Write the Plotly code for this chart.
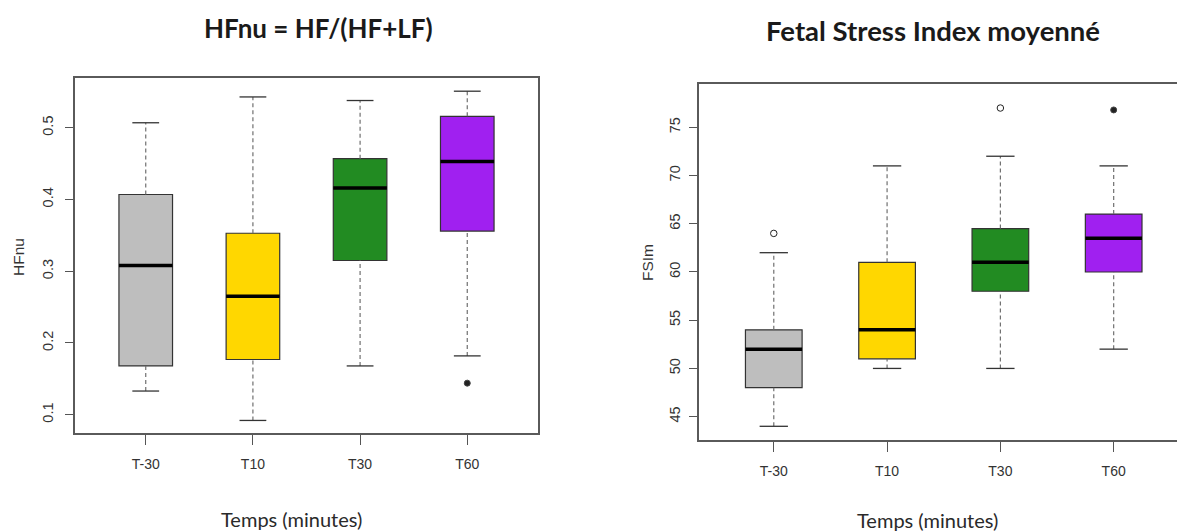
import plotly.graph_objects as go

W, H = 1177, 531

categories = ["T-30", "T10", "T30", "T60"]
positions = [1, 2, 3, 4]
colors = ["#BEBEBE", "#FFD700", "#228B22", "#A020F0"]

# HFnu panel
hf_lo = [0.133, 0.092, 0.168, 0.182]
hf_q1 = [0.168, 0.177, 0.315, 0.356]
hf_med = [0.308, 0.265, 0.416, 0.453]
hf_q3 = [0.407, 0.353, 0.457, 0.516]
hf_hi = [0.507, 0.543, 0.538, 0.551]
hf_out_x = [4]
hf_out_y = [0.144]
hf_out_filled = [True]

# FSIm panel
fs_lo = [44, 50, 50, 52]
fs_q1 = [48, 51, 58, 60]
fs_med = [52, 54, 61, 63.5]
fs_q3 = [54, 61, 64.5, 66]
fs_hi = [62, 71, 72, 71]
fs_out_x = [1, 3, 4]
fs_out_y = [64, 77, 76.8]
fs_out_filled = [False, False, True]

hf_ticks = [0.1, 0.2, 0.3, 0.4, 0.5]
fs_ticks = [45, 50, 55, 60, 65, 70, 75]

BOXW = 0.5
CAPW = 0.25

fig = go.Figure()


def add_panel(lo, q1, med, q3, hi, ox, oy, ofilled, xa, ya):
    for i, p in enumerate(positions):
        # whiskers (dashed)
        fig.add_trace(go.Scatter(x=[p, p, None, p, p], y=[q3[i], hi[i], None, lo[i], q1[i]],
                                 mode="lines", line=dict(color="#707070", width=1.2, dash="4px,3px"),
                                 xaxis=xa, yaxis=ya, hoverinfo="skip", showlegend=False))
        # caps
        fig.add_trace(go.Scatter(x=[p - CAPW / 2, p + CAPW / 2, None, p - CAPW / 2, p + CAPW / 2],
                                 y=[hi[i], hi[i], None, lo[i], lo[i]],
                                 mode="lines", line=dict(color="#333333", width=1.3),
                                 xaxis=xa, yaxis=ya, hoverinfo="skip", showlegend=False))
        # box
        fig.add_trace(go.Box(x=[p], q1=[q1[i]], median=[med[i]], q3=[q3[i]],
                             lowerfence=[q1[i]], upperfence=[q3[i]], width=BOXW,
                             fillcolor=colors[i], line=dict(color="#333333", width=1.2),
                             boxpoints=False, xaxis=xa, yaxis=ya, showlegend=False,
                             hoverinfo="skip"))
        # median
        fig.add_trace(go.Scatter(x=[p - BOXW / 2, p + BOXW / 2], y=[med[i], med[i]],
                                 mode="lines", line=dict(color="#000000", width=3.5),
                                 xaxis=xa, yaxis=ya, hoverinfo="skip", showlegend=False))
    for x, y, f in zip(ox, oy, ofilled):
        fig.add_trace(go.Scatter(x=[x], y=[y], mode="markers",
                                 marker=dict(symbol="circle" if f else "circle-open",
                                             size=6 if f else 6.5, color="#222222",
                                             line=dict(width=1, color="#444444")),
                                 xaxis=xa, yaxis=ya, hoverinfo="skip", showlegend=False))


add_panel(hf_lo, hf_q1, hf_med, hf_q3, hf_hi, hf_out_x, hf_out_y, hf_out_filled, "x", "y")
add_panel(fs_lo, fs_q1, fs_med, fs_q3, fs_hi, fs_out_x, fs_out_y, fs_out_filled, "x2", "y2")

tickfont = dict(family="Liberation Sans Narrow, Arial Narrow, Liberation Sans, Arial", size=14, color="#333333")
ytickfont = dict(family="Liberation Sans, Arial", size=14.5, color="#333333")
frame = "#5a5a5a"


def px_x(p):
    return p / W


def px_y(p):
    return 1 - p / H


common_x = dict(tickmode="array", tickvals=positions, ticktext=categories, showgrid=False,
                zeroline=False, showline=True, linecolor=frame, linewidth=1.5, mirror=True,
                ticks="outside", ticklen=10, tickcolor="#555555", tickwidth=1,
                tickfont=tickfont, automargin=False, ticklabelstandoff=7)
common_y = dict(showgrid=False, zeroline=False, showline=True, linecolor=frame, linewidth=1.5,
                ticks="outside", ticklen=8, tickcolor="#555555", tickwidth=1, tickangle=-90,
                tickfont=ytickfont, automargin=False, tickmode="array")

fig.update_layout(
    width=W, height=H,
    margin=dict(l=0, r=0, t=0, b=0),
    paper_bgcolor="white", plot_bgcolor="white",
    showlegend=False,
    xaxis=dict(domain=[px_x(75), px_x(538)], range=[0.34, 4.66], anchor="y", **common_x),
    yaxis=dict(domain=[px_y(433), px_y(78)], range=[0.0745, 0.5694], anchor="x",
               tickvals=hf_ticks, ticktext=[str(t) for t in hf_ticks], mirror=True,
               ticklabelstandoff=6, **common_y),
    xaxis2=dict(domain=[px_x(699), 1.0], range=[0.34, 0.34 + (W - 699) / 113.3], anchor="y2", **common_x),
    yaxis2=dict(domain=[px_y(440), px_y(84)], range=[42.58, 79.49], anchor="x2",
                tickvals=fs_ticks, ticktext=[str(t) for t in fs_ticks], mirror=False,
                ticklabelstandoff=3, **common_y),
)

lab_font = dict(family="Lato, Open Sans, sans-serif", size=20, color="#2a2a2a")
axt_font = dict(family="Liberation Sans, Arial", size=15.5, color="#333333")

annots = [
    dict(text="<b>HFnu = HF/(HF+LF)</b>", x=px_x(318), y=px_y(28),
         font=dict(family="Lato, Open Sans, sans-serif", size=26, color="#1a1a1a")),
    dict(text="<b>Fetal Stress Index moyenné</b>", x=px_x(933), y=px_y(30),
         font=dict(family="Lato, Open Sans, sans-serif", size=27.5, color="#1a1a1a")),
    dict(text="Temps (minutes)", x=px_x(291), y=px_y(519), font=lab_font),
    dict(text="Temps (minutes)", x=px_x(927), y=px_y(520), font=lab_font),
    dict(text="HFnu", x=px_x(19), y=px_y(257), font=axt_font, textangle=-90),
    dict(text="FSIm", x=px_x(647), y=px_y(263), font=axt_font, textangle=-90),
]
for a in annots:
    fig.add_annotation(xref="paper", yref="paper", showarrow=False,
                       xanchor="center", yanchor="middle", **a)

fig.write_html("out.html",
               config={"displayModeBar": False},
               post_script="document.body.style.margin='0';document.body.style.overflow='hidden';")
